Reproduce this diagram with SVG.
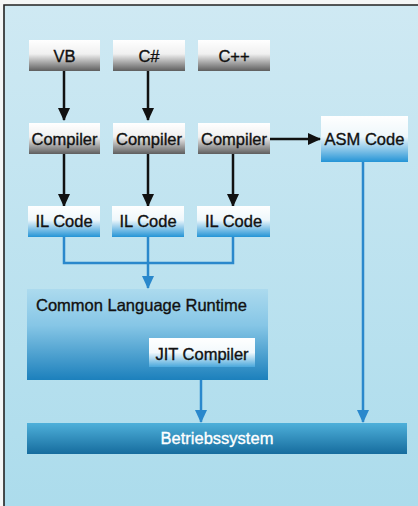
<svg xmlns="http://www.w3.org/2000/svg" width="418" height="506" viewBox="0 0 418 506">
<defs>
<linearGradient id="bg" x1="0" y1="0" x2="0" y2="1"><stop offset="0" stop-color="#cfe9f3"/><stop offset="1" stop-color="#acdcec"/></linearGradient>
<linearGradient id="gray" x1="0" y1="0" x2="0" y2="1"><stop offset="0" stop-color="#ffffff"/><stop offset="0.45" stop-color="#f0f0f0"/><stop offset="1" stop-color="#5e5e5e"/></linearGradient>
<linearGradient id="blue" x1="0" y1="0" x2="0" y2="1"><stop offset="0" stop-color="#ffffff"/><stop offset="0.45" stop-color="#eef7fb"/><stop offset="1" stop-color="#2494d6"/></linearGradient>
<linearGradient id="clr" x1="0" y1="0" x2="0" y2="1"><stop offset="0" stop-color="#acdaee"/><stop offset="0.4" stop-color="#86c6e6"/><stop offset="1" stop-color="#1c80bc"/></linearGradient>
<linearGradient id="jit" x1="0" y1="0" x2="0" y2="1"><stop offset="0" stop-color="#ffffff"/><stop offset="0.5" stop-color="#f2f9fc"/><stop offset="1" stop-color="#4aa8dc"/></linearGradient>
<linearGradient id="os" x1="0" y1="0" x2="0" y2="1"><stop offset="0" stop-color="#4eb0da"/><stop offset="1" stop-color="#166c9e"/></linearGradient>
<marker id="ab" viewBox="0 0 13 12" refX="12" refY="6" markerWidth="13" markerHeight="12" markerUnits="userSpaceOnUse" orient="auto"><path d="M0,0 L13,6 L0,12 Z" fill="#111"/></marker>
<marker id="au" viewBox="0 0 13 12" refX="12" refY="6" markerWidth="13" markerHeight="12" markerUnits="userSpaceOnUse" orient="auto"><path d="M0,0 L13,6 L0,12 Z" fill="#2a88cc"/></marker>
</defs>
<style>
text{font-family:"Liberation Sans",Arial,sans-serif;font-size:16.5px;fill:#111;stroke:#111;stroke-width:0.35;text-anchor:middle}
.k{stroke:#111;stroke-width:2.5;fill:none}
.b{stroke:#2a88cc;stroke-width:2.5;fill:none}
text.w{fill:#fff;stroke:#fff}
</style>
<rect x="0" y="0" width="418" height="506" fill="#f4f6f6"/>
<rect x="4" y="5" width="414" height="501" fill="url(#bg)"/>
<path d="M4,506 V5 H418" stroke="#222" stroke-width="1.6" fill="none"/>
<g id="connectors">
<path class="k" d="M64,71 V120" marker-end="url(#ab)"/>
<path class="k" d="M148,71 V120" marker-end="url(#ab)"/>
<path class="k" d="M64,154 V206" marker-end="url(#ab)"/>
<path class="k" d="M148,154 V206" marker-end="url(#ab)"/>
<path class="k" d="M233,154 V206" marker-end="url(#ab)"/>
<path class="k" d="M270,139 H320" marker-end="url(#ab)"/>
<path class="b" d="M64,237 V263 H233 V237"/>
<path class="b" d="M148,237 V288" marker-end="url(#au)"/>
<path class="b" d="M201,367 V422" marker-end="url(#au)"/>
<path class="b" d="M363,162 V422" marker-end="url(#au)"/>
</g>
<g id="vb"><rect x="29" y="40" width="71" height="31" fill="url(#gray)"/><text x="64.5" y="62">VB</text></g>
<g id="cs"><rect x="113" y="40" width="72" height="31" fill="url(#gray)"/><text x="149" y="62">C#</text></g>
<g id="cpp"><rect x="198" y="40" width="72" height="31" fill="url(#gray)"/><text x="234" y="62">C++</text></g>
<g id="comp1"><rect x="29" y="123" width="71" height="31" fill="url(#gray)"/><text x="64.5" y="145">Compiler</text></g>
<g id="comp2"><rect x="113" y="123" width="72" height="31" fill="url(#gray)"/><text x="149" y="145">Compiler</text></g>
<g id="comp3"><rect x="198" y="123" width="72" height="31" fill="url(#gray)"/><text x="234" y="145">Compiler</text></g>
<g id="asm"><rect x="321" y="116" width="87" height="46" fill="url(#blue)"/><text x="364.5" y="145">ASM Code</text></g>
<g id="il1"><rect x="28" y="206" width="72" height="31" fill="url(#blue)"/><text x="64" y="227">IL Code</text></g>
<g id="il2"><rect x="112" y="206" width="72" height="31" fill="url(#blue)"/><text x="148" y="227">IL Code</text></g>
<g id="il3"><rect x="197" y="206" width="73" height="31" fill="url(#blue)"/><text x="233.5" y="227">IL Code</text></g>
<g id="clr"><rect x="27" y="289" width="241" height="91" fill="url(#clr)"/><text x="36" y="311" style="text-anchor:start">Common Language Runtime</text></g>
<g id="jit"><rect x="149" y="338" width="106" height="29" fill="url(#jit)"/><text x="202" y="360">JIT Compiler</text></g>
<g id="os"><rect x="27" y="423" width="380" height="31" fill="url(#os)"/><text class="w" x="217" y="444">Betriebssystem</text></g>
</svg>
